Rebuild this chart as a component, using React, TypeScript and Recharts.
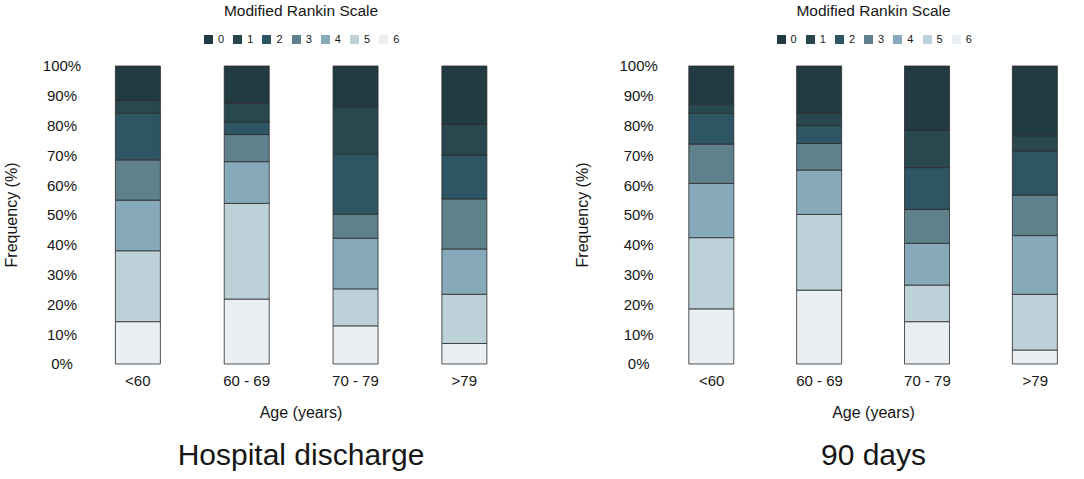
import { BarChart, Bar, XAxis, YAxis } from 'recharts';

const ageGroups = ['<60', '60 - 69', '70 - 79', '>79'];
const mrsLevels = ['0', '1', '2', '3', '4', '5', '6'];
const mrsColors = ['#223a41', '#28474f', '#2e5563', '#5e818b', '#87aaba', '#bdd1d9', '#eaeff3'];
const yTicks = [0, 10, 20, 30, 40, 50, 60, 70, 80, 90, 100];

// % of patients per mRS level (rows 0..6), one value per age group
const dischargeMrs = [
  [11.4, 12.5, 13.7, 19.5],
  [4.5, 6.3, 15.9, 10.4],
  [15.6, 4.2, 20.1, 14.7],
  [13.5, 9.1, 8.1, 16.8],
  [17.0, 14.0, 17.0, 15.2],
  [23.8, 32.1, 12.4, 16.5],
  [14.2, 21.8, 12.8, 6.9],
];

const day90Mrs = [
  [12.8, 15.7, 21.5, 23.4],
  [3.1, 4.3, 12.6, 5.1],
  [10.3, 6.0, 14.0, 14.8],
  [13.2, 8.9, 11.4, 13.6],
  [18.2, 14.9, 14.0, 19.7],
  [23.9, 25.4, 12.3, 18.7],
  [18.5, 24.8, 14.2, 4.7],
];

const FONT = '"Liberation Sans", Arial, Helvetica, sans-serif';
const TEXT = '#161616';
const CHART_H = 400;
const PLOT_TOP = 66;
const PLOT_BOTTOM = 364;
const XAXIS_H = 20;

function buildRows(values: number[][]) {
  return ageGroups.map((age, i) => {
    const row: Record<string, string | number> = { age };
    mrsLevels.forEach((lvl, j) => {
      row[`mrs${lvl}`] = values[j][i];
    });
    return row;
  });
}

// eslint-disable-next-line @typescript-eslint/no-explicit-any
function Centered({ x, y, size, children, rotate }: any) {
  return (
    <div
      style={{
        position: 'absolute',
        left: x,
        top: y,
        transform: `translate(-50%, -50%)${rotate ? ` rotate(${rotate}deg)` : ''}`,
        fontSize: size,
        lineHeight: 1,
        whiteSpace: 'nowrap',
        color: TEXT,
      }}
    >
      {children}
    </div>
  );
}

interface PanelProps {
  offset: number;
  width: number;
  plotLeft: number;
  plotRight: number;
  tickLabelX: number;
  freqX: number;
  values: number[][];
  title: string;
}

function Panel({ offset, width, plotLeft, plotRight, tickLabelX, freqX, values, title }: PanelProps) {
  const data = buildRows(values);
  const cx = (plotLeft + plotRight) / 2;
  const legendStart = cx - 97;

  // eslint-disable-next-line @typescript-eslint/no-explicit-any
  const renderXTick = (props: any) => (
    <text x={props.x} y={PLOT_BOTTOM + 22} textAnchor="middle" fontSize={15} fill={TEXT} fontFamily={FONT}>
      {props.payload.value}
    </text>
  );

  // eslint-disable-next-line @typescript-eslint/no-explicit-any
  const renderYTick = (props: any) => (
    <text x={tickLabelX} y={props.y + 5.4} textAnchor="middle" fontSize={15} fill={TEXT} fontFamily={FONT}>
      {`${props.payload.value}%`}
    </text>
  );

  return (
    <div style={{ position: 'absolute', left: offset, top: 0, width, height: 479 }}>
      <Centered x={cx} y={10.5} size={15.5}>Modified Rankin Scale</Centered>

      {mrsLevels.map((lvl, i) => (
        <div
          key={lvl}
          style={{
            position: 'absolute',
            left: legendStart + i * 29.2,
            top: 35,
            display: 'flex',
            alignItems: 'center',
            height: 9,
            fontSize: 11,
            color: TEXT,
          }}
        >
          <span style={{ width: 9, height: 9, background: mrsColors[i], display: 'inline-block', marginRight: 5 }} />
          <span style={{ lineHeight: 1 }}>{lvl}</span>
        </div>
      ))}

      <Centered x={freqX} y={214.5} size={16} rotate={-90}>
        Frequency (%)
      </Centered>

      <div style={{ position: 'absolute', left: 0, top: 0 }}>
        <BarChart
          width={width}
          height={CHART_H}
          data={data}
          margin={{ top: PLOT_TOP, right: width - plotRight, left: 0, bottom: CHART_H - PLOT_BOTTOM - XAXIS_H }}
          barSize={45}
        >
          <XAxis
            dataKey="age"
            axisLine={false}
            tickLine={false}
            tickSize={0}
            height={XAXIS_H}
            interval={0}
            tick={renderXTick}
          />
          <YAxis
            type="number"
            domain={[0, 100]}
            ticks={yTicks}
            axisLine={false}
            tickLine={false}
            tickSize={0}
            width={plotLeft}
            tick={renderYTick}
          />
          {[...mrsLevels].reverse().map((lvl) => (
            <Bar
              key={lvl}
              dataKey={`mrs${lvl}`}
              stackId="mrs"
              fill={mrsColors[Number(lvl)]}
              stroke="#2b2b2b"
              strokeWidth={0.8}
              isAnimationActive={false}
            />
          ))}
        </BarChart>
      </div>

      <Centered x={cx} y={413} size={16}>Age (years)</Centered>
      <Centered x={cx} y={455} size={30}>{title}</Centered>
    </div>
  );
}

export default function App() {
  return (
    <div
      style={{
        position: 'absolute',
        left: 0,
        top: 0,
        width: 1084,
        height: 479,
        overflow: 'hidden',
        background: '#fff',
        fontFamily: FONT,
      }}
    >
      <Panel
        offset={0}
        width={542}
        plotLeft={83.4}
        plotRight={518.7}
        tickLabelX={62}
        freqX={11.5}
        values={dischargeMrs}
        title="Hospital discharge"
      />
      <Panel
        offset={542}
        width={548}
        plotLeft={115.8}
        plotRight={547.2}
        tickLabelX={96.7}
        freqX={41}
        values={day90Mrs}
        title="90 days"
      />
    </div>
  );
}
